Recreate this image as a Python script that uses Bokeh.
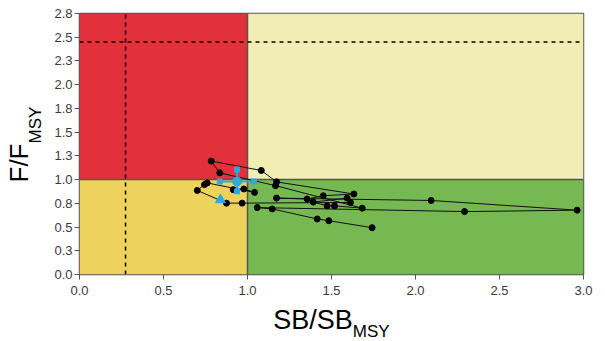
from math import pi
from bokeh.plotting import figure
from bokeh.models import Range1d, FixedTicker
from bokeh.layouts import row, column
from bokeh.core.properties import value
from bokeh.embed import file_html
from bokeh.resources import INLINE

# ---- data ----
sb_ratio = [1.742, 1.484, 1.415, 1.147, 1.058, 2.292, 2.962, 2.093, 1.173, 1.355,
            1.451, 1.633, 1.173, 1.082, 0.784, 0.835, 1.167, 1.683, 1.518, 1.474,
            1.391, 1.593, 1.613, 0.968, 0.875, 0.701, 0.744, 0.760, 1.042, 0.978,
            0.915]
f_ratio = [0.493, 0.567, 0.585, 0.691, 0.705, 0.663, 0.678, 0.780, 0.805, 0.795,
           0.830, 0.848, 0.976, 1.096, 1.195, 1.071, 0.936, 0.699, 0.723, 0.723,
           0.763, 0.805, 0.759, 0.752, 0.752, 0.886, 0.947, 0.965, 0.865, 0.901,
           0.894]

start_sb = [0.839]
start_f = [0.787]

current_sb = [0.938]
current_f = [0.980]
current_sb_lo = [0.835]
current_sb_hi = [1.038]
current_f_lo = [0.876]
current_f_hi = [1.106]

sb_limit = 0.274
f_limit = 2.45
ref_point = 1.0
x_max = 3.0
y_max = 2.75

x_ticks = [0.0, 0.5, 1.0, 1.5, 2.0, 2.5, 3.0]
x_tick_labels = ["0.0", "0.5", "1.0", "1.5", "2.0", "2.5", "3.0"]
y_ticks = [0.0, 0.25, 0.5, 0.75, 1.0, 1.25, 1.5, 1.75, 2.0, 2.25, 2.5, 2.75]
y_tick_labels = ["0.0", "0.3", "0.5", "0.8", "1.0", "1.3", "1.5", "1.8", "2.0",
                 "2.3", "2.5", "2.8"]

x_title = ["SB/SB", "MSY"]
y_title = ["F/F", "MSY"]

quad_colors = ["#EDD35E", "#E2313A", "#76B852", "#F2EDB5"]

FONT = "Liberation Sans"

p = figure(width=557, height=300, x_range=Range1d(0, x_max), y_range=Range1d(0, y_max),
           output_backend="svg", toolbar_location=None,
           min_border_left=31, min_border_right=22, min_border_top=13, min_border_bottom=26)
p.grid.visible = False
p.outline_line_color = "#555555"
p.outline_line_width = 1.5
p.background_fill_color = "white"

# quadrants
p.quad(left=[0, 0, ref_point, ref_point], right=[ref_point, ref_point, x_max, x_max],
       bottom=[0, ref_point, 0, ref_point], top=[ref_point, y_max, ref_point, y_max],
       fill_color=quad_colors, line_color=None)

# reference boundaries
p.segment(x0=[ref_point, 0], y0=[0, ref_point], x1=[ref_point, x_max], y1=[y_max, ref_point],
          line_color="#555555", line_width=1.5)

# limit dashed lines
p.segment(x0=[sb_limit, 0], y0=[0, f_limit], x1=[sb_limit, x_max], y1=[y_max, f_limit],
          line_color="black", line_width=1.5, line_dash="4 4")

# trajectory
p.line(sb_ratio, f_ratio, line_color="#111111", line_width=1)
p.scatter(sb_ratio, f_ratio, size=6, color="black")

# current estimate with uncertainty
blue = "#2BA9E0"
p.segment(x0=current_sb_lo, y0=current_f, x1=current_sb_hi, y1=current_f,
          line_color=blue, line_width=2)
p.segment(x0=current_sb, y0=current_f_lo, x1=current_sb, y1=current_f_hi,
          line_color=blue, line_width=2)
p.scatter(current_sb_lo + current_sb_hi + current_sb + current_sb,
          current_f + current_f + current_f_lo + current_f_hi,
          marker="square", size=5, color=blue)
p.scatter(current_sb, current_f, size=9, color=blue)
p.scatter(start_sb, start_f, marker="triangle", size=10, color=blue)

# axes
for ax in (p.xaxis[0], p.yaxis[0]):
    ax.axis_line_color = None
    ax.major_tick_line_color = "#555555"
    ax.major_tick_line_width = 1
    ax.major_tick_out = 5
    ax.major_tick_in = 0
    ax.minor_tick_line_color = None
    ax.major_label_text_font = FONT
    ax.major_label_text_font_size = "13px"
    ax.major_label_text_color = "#3a3a3a"

p.xaxis.ticker = FixedTicker(ticks=x_ticks)
p.xaxis.major_label_overrides = {t: l for t, l in zip(x_ticks, x_tick_labels)}
p.yaxis.ticker = FixedTicker(ticks=y_ticks)
p.yaxis.major_label_overrides = {t: l for t, l in zip(y_ticks, y_tick_labels)}
p.xaxis.major_label_standoff = 6
p.yaxis.major_label_standoff = 2


def title_fig(w, h):
    f = figure(width=w, height=h, x_range=Range1d(0, w), y_range=Range1d(0, h),
               output_backend="svg", toolbar_location=None,
               x_axis_type=None, y_axis_type=None,
               min_border_left=0, min_border_right=0, min_border_top=0, min_border_bottom=0)
    f.grid.visible = False
    f.outline_line_color = None
    return f


# y-axis title panel (pixel coordinates)
yl = title_fig(48, 341)
yl.text(x=[18], y=[198], text=[y_title[0]], angle=pi / 2, text_font=value(FONT),
        text_font_size="26px", text_color="black", text_baseline="alphabetic",
        text_align="right")
yl.text(x=[35], y=[198], text=[y_title[1]], angle=pi / 2, text_font=value(FONT),
        text_font_size="17px", text_color="black", text_baseline="alphabetic",
        text_align="left")

# x-axis title panel (pixel coordinates)
xl = title_fig(557, 41)
xl.text(x=[302], y=[22], text=[x_title[0]], text_font=value(FONT),
        text_font_size="27px", text_color="black", text_baseline="alphabetic",
        text_align="right")
xl.text(x=[302], y=[10], text=[x_title[1]], text_font=value(FONT),
        text_font_size="17px", text_color="black", text_baseline="alphabetic",
        text_align="left")

layout = row(yl, column(p, xl, spacing=0), spacing=0)

open("out.html", "w").write(file_html(layout, INLINE))
